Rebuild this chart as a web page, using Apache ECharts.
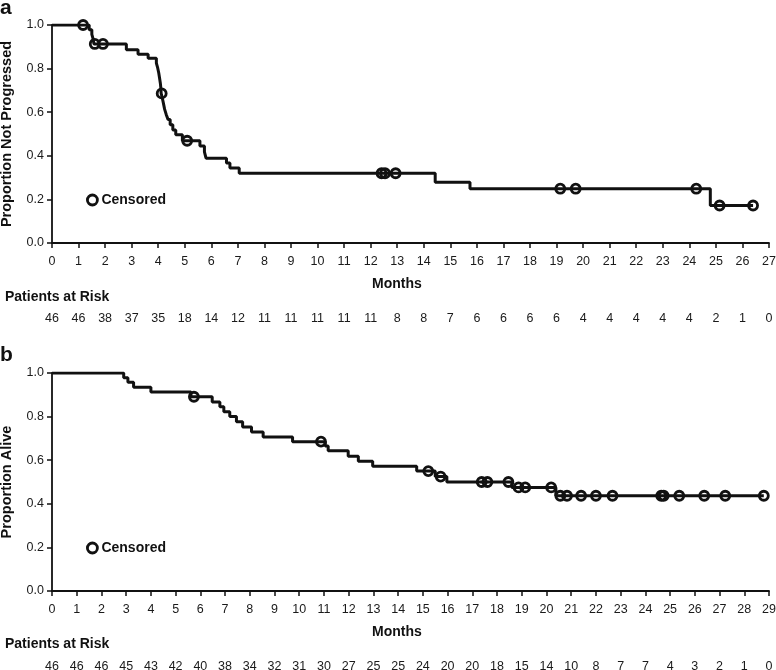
<!DOCTYPE html>
<html>
<head>
<meta charset="utf-8">
<script src="https://cdn.jsdelivr.net/npm/echarts@6/dist/echarts.min.js"></script>
<style>
  html, body { margin: 0; padding: 0; background: #fff; }
  #chart { width: 776px; height: 670px; }
</style>
</head>
<body>
<div id="chart"></div>
<script>
// panel a: progression-free (event time, proportion after event)
var pfsTime = [0, 1.40, 1.50, 1.55, 1.58, 2.80, 3.24, 3.62, 3.93, 3.98, 4.02, 4.05, 4.08, 4.10, 4.11,
  4.16, 4.20, 4.24, 4.30, 4.37, 4.45, 4.55, 4.66, 4.91, 5.57, 5.74, 5.80, 6.57, 6.70, 7.05,
  14.43, 15.74, 24.79, 26.40];
var pfsSurv = [1, 0.978, 0.957, 0.935, 0.913, 0.886, 0.866, 0.847, 0.825, 0.803, 0.780, 0.757, 0.733, 0.709, 0.686,
  0.662, 0.638, 0.614, 0.590, 0.566, 0.542, 0.518, 0.496, 0.469, 0.445, 0.418, 0.389, 0.367, 0.344, 0.320,
  0.279, 0.249, 0.172, 0.172];
var pfsCensT = [1.17, 1.61, 1.92, 4.13, 5.09, 12.41, 12.54, 12.94, 19.14, 19.72, 24.26, 25.14, 26.40];
var pfsCensS = [1.0, 0.913, 0.913, 0.686, 0.469, 0.320, 0.320, 0.320, 0.249, 0.249, 0.249, 0.172, 0.172];
var riskA = [46, 46, 38, 37, 35, 18, 14, 12, 11, 11, 11, 11, 11, 8, 8, 7, 6, 6, 6, 6, 4, 4, 4, 4, 4, 2, 1, 0];

// panel b: overall survival
var osTime = [0, 2.90, 3.07, 3.30, 4.00, 5.62, 6.48, 6.79, 6.95, 7.19, 7.46, 7.71, 8.07, 8.54, 9.73,
  11.05, 11.17, 11.98, 12.39, 12.97, 14.75, 15.50, 15.97, 18.60, 20.38, 28.79];
var osSurv = [1, 0.978, 0.957, 0.935, 0.913, 0.891, 0.867, 0.845, 0.822, 0.800, 0.776, 0.752, 0.729, 0.706, 0.685,
  0.665, 0.643, 0.618, 0.595, 0.572, 0.550, 0.525, 0.500, 0.475, 0.437, 0.437];
var osCensT = [5.74, 10.88, 15.22, 15.72, 17.38, 17.61, 18.46, 18.87, 19.14, 20.19, 20.56, 20.83, 21.40,
  22.00, 22.67, 24.64, 24.74, 25.37, 26.38, 27.23, 28.79];
var osCensS = [0.891, 0.685, 0.550, 0.525, 0.500, 0.500, 0.500, 0.475, 0.475, 0.475, 0.437, 0.437, 0.437,
  0.437, 0.437, 0.437, 0.437, 0.437, 0.437, 0.437, 0.437];
var riskB = [46, 46, 46, 45, 43, 42, 40, 38, 34, 32, 31, 30, 27, 25, 25, 24, 20, 20, 18, 15, 14, 10, 8, 7, 7, 4, 3, 2, 1, 0];

function pairs(xs, ys) {
  return xs.map(function (x, i) { return [x, ys[i]]; });
}

var FONT = "'Liberation Sans', Arial, sans-serif";
var INK = '#111';

function timeAxis(grid, max) {
  return {
    gridIndex: grid, type: 'value', min: 0, max: max, interval: 1,
    axisLine: { show: true, onZero: false, lineStyle: { color: INK, width: 1.8 } },
    axisTick: { show: true, length: 5, lineStyle: { color: INK, width: 1.5 } },
    axisLabel: { color: '#1a1a1a', fontSize: 12.5, fontFamily: FONT, margin: 12 },
    splitLine: { show: false }
  };
}
function riskAxis(grid, max, risk) {
  return {
    gridIndex: grid, type: 'value', min: 0, max: max, interval: 1, position: 'bottom', offset: 57,
    axisLine: { show: false }, axisTick: { show: false }, splitLine: { show: false },
    axisLabel: {
      color: '#1a1a1a', fontSize: 12.5, fontFamily: FONT, margin: 12,
      formatter: function (v) { return String(risk[Math.round(v)]); }
    }
  };
}
function propAxis(grid, name) {
  return {
    gridIndex: grid, type: 'value', min: 0, max: 1, interval: 0.2,
    name: name, nameLocation: 'middle', nameGap: 38,
    nameTextStyle: { color: INK, fontSize: 14.5, fontWeight: 'bold', fontFamily: FONT },
    axisLine: { show: true, lineStyle: { color: INK, width: 1.8 } },
    axisTick: { show: true, length: 5, lineStyle: { color: INK, width: 1.5 } },
    axisLabel: { color: '#1a1a1a', fontSize: 12.5, fontFamily: FONT, margin: 8,
      formatter: function (v) { return v.toFixed(1); } },
    splitLine: { show: false }
  };
}
function kmLine(ax, data) {
  return {
    type: 'line', step: 'end', xAxisIndex: ax, yAxisIndex: ax, data: data,
    showSymbol: false, silent: true, animation: false,
    lineStyle: { color: INK, width: 3 }
  };
}
function censors(ax, data) {
  return {
    name: 'Censored', type: 'scatter', xAxisIndex: ax, yAxisIndex: ax, data: data,
    symbol: 'circle', symbolSize: 9, animation: false, z: 3,
    itemStyle: { color: 'rgba(255,255,255,0)', borderColor: INK, borderWidth: 2.8, opacity: 1 }
  };
}
function label(text, left, top, size) {
  return {
    type: 'text', left: left, top: top,
    style: { text: text, fill: INK, font: 'bold ' + size + 'px ' + FONT }
  };
}
function legendAt(top) {
  return {
    left: 86, top: top, padding: 0, data: ['Censored'], itemWidth: 10, itemHeight: 10, selectedMode: false,
    itemStyle: { color: '#fff', borderColor: INK, borderWidth: 2.8, opacity: 1 },
    textStyle: { color: INK, fontSize: 14, fontWeight: 'bold', fontFamily: FONT, padding: [0, 0, 0, -1] }
  };
}

var chart = echarts.init(document.getElementById('chart'), null, { renderer: 'canvas' });
chart.setOption({
  animation: false,
  grid: [
    { left: 52, right: 7, top: 25, height: 218, outerBoundsMode: 'none', containLabel: false },
    { left: 52, right: 7, top: 373, height: 218, outerBoundsMode: 'none', containLabel: false }
  ],
  xAxis: [timeAxis(0, 27), timeAxis(1, 29), riskAxis(0, 27, riskA), riskAxis(1, 29, riskB)],
  yAxis: [propAxis(0, 'Proportion Not Progressed'), propAxis(1, 'Proportion Alive'),
    { gridIndex: 0, show: false, min: 0, max: 1 }, { gridIndex: 1, show: false, min: 0, max: 1 }],
  legend: [legendAt(193), legendAt(541)],
  series: [
    kmLine(0, pairs(pfsTime, pfsSurv)),
    censors(0, pairs(pfsCensT, pfsCensS)),
    kmLine(1, pairs(osTime, osSurv)),
    censors(1, pairs(osCensT, osCensS))
  ],
  graphic: [
    label('a', 0, -2, 21),
    label('b', 0, 345, 21),
    label('Months', 372, 277, 14),
    label('Months', 372, 625, 14),
    label('Patients at Risk', 5, 290, 14),
    label('Patients at Risk', 5, 637, 14)
  ]
});
</script>
</body>
</html>
